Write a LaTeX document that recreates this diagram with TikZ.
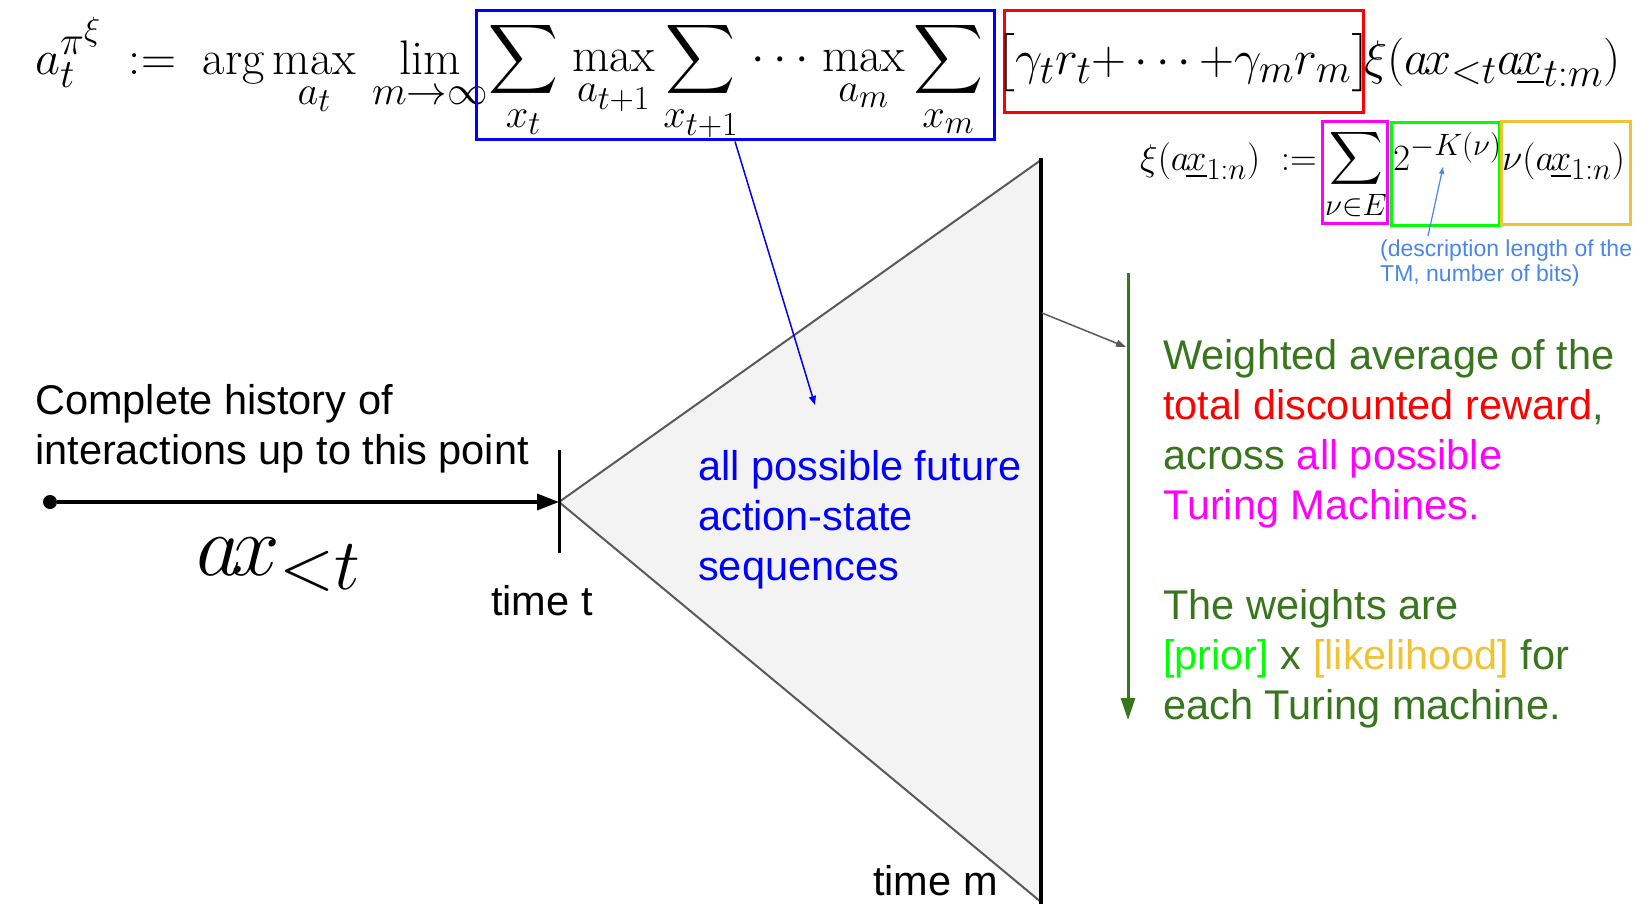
\RequirePackage{fix-cm}
\documentclass[tikz,border=0pt]{standalone}
\usepackage{amsmath}
\usepackage{graphicx}
\usepackage{fontspec}
\setsansfont{Liberation Sans}
\usetikzlibrary{arrows.meta}

\definecolor{darkgreen}{HTML}{38761D}
\definecolor{primegreen}{HTML}{00FF00}
\definecolor{likeorange}{HTML}{F1C232}
\definecolor{tmmagenta}{HTML}{FF00FF}
\definecolor{desctext}{HTML}{4A86E8}
\definecolor{edgegray}{HTML}{595959}
\definecolor{conegray}{HTML}{F3F3F3}

% math is set at 24.88pt (largest cmex size) and scaled up
\newcommand{\bigeq}[1]{\scalebox{1.95}{$\displaystyle #1$}}
\newcommand{\smalleq}[1]{\scalebox{1.49}{$\displaystyle #1$}}
\newcommand{\hist}{a\mkern-2mu x}

\tikzset{
  plaintext/.style={font=\sffamily\fontsize{41.5}{50}\selectfont, inner sep=0pt, anchor=base west},
  desclabel/.style={font=\sffamily\fontsize{23}{27}\selectfont, text=desctext, inner sep=0pt, anchor=base west},
  mathtext/.style={font=\fontsize{24.88}{30}\selectfont, inner sep=0pt},
  termbox/.style={draw=#1, line width=3pt, inner sep=0pt},
}

\begin{document}
\begin{tikzpicture}[x=1pt, y=-1pt]
\useasboundingbox (0,0) rectangle (1645,917);

% cone of futures
\filldraw[fill=conegray, draw=edgegray, line width=2pt] (559,502) -- (1041,160) -- (1041,902) -- cycle;
\draw[line width=4pt] (1041,158) -- (1041,904);

% top formula
\node[mathtext, anchor=base west] (policy) at (35,75) {\bigeq{a_t^{\pi^\xi}\;:=\;\arg\max_{a_t}\,\lim_{m\to\infty}}};
\node[termbox=blue, minimum width=518pt, minimum height=129pt] (futbox) at (735,75.5) {};
\node[mathtext, anchor=base] (futsum) at (736,72) {\bigeq{\sum_{x_t}\mkern2mu\max_{a_{t+1}}\sum_{x_{t+1}}\mkern2mu\cdots\mkern2mu\max_{a_m}\sum_{x_m}}};
\node[termbox=red, minimum width=359pt, minimum height=102pt] (rewbox) at (1183.5,62) {};
\node[mathtext, anchor=base] (reward) at (1183.5,75) {\bigeq{\big[\gamma_t r_t{+}\cdots{+}\gamma_m r_m\big]}};
\node[mathtext, anchor=base west] (mixture) at (1364,75) {\bigeq{\xi(\hist_{<t}a\mkern-2mu\underline{x}_{t:m})}};

% mixture definition
\node[mathtext, anchor=base west] (xidef) at (1140,171) {\smalleq{\xi(a\mkern-2mu\underline{x}_{1:n})\;:=}};
\node[termbox=tmmagenta, minimum width=65pt, minimum height=102pt] (envbox) at (1354.5,173) {};
\node[mathtext, anchor=base] (envsum) at (1356,168) {\smalleq{\sum_{\nu\in E}}};
\node[termbox=primegreen, minimum width=108pt, minimum height=103pt] (priorbox) at (1445,174.5) {};
\node[mathtext, anchor=base west] (prior) at (1393,171) {\smalleq{2^{-K(\nu)}}};
\node[termbox=likeorange, minimum width=129pt, minimum height=103pt] (likebox) at (1565.5,173.5) {};
\node[mathtext, anchor=base west] (like) at (1502,171) {\smalleq{\nu(a\mkern-2mu\underline{x}_{1:n})}};

% description of K
\node[desclabel] (desc1) at (1380,256) {(description length of the};
\node[desclabel] (desc2) at (1380,281) {TM, number of bits)};
\coordinate (kfoot) at (1428,236);
\coordinate (khead) at (1443,167);
\draw[desctext, line width=1.2pt, -{Triangle[length=7pt,width=5pt]}] (kfoot) -- (khead);

% history
\node[plaintext] (hist1) at (35,414) {Complete history of};
\node[plaintext] (hist2) at (35,464) {interactions up to this point};
\node[circle, fill, inner sep=0pt, minimum size=14pt] (origin) at (50,502) {};
\coordinate (now) at (559,502);
\draw[line width=3.5pt, -{Triangle[length=22pt,width=16pt]}] (origin) -- (now);
\draw[line width=3pt] (559,450) -- (559,553);
\node[mathtext, anchor=base west] (past) at (196,575) {\scalebox{3.5}{$\hist_{<t}$}};
\node[plaintext] (timet) at (491,615) {time t};
\node[plaintext] (timem) at (873,895) {time m};

% futures
\node[plaintext, text=blue] (fut1) at (698,480) {all possible future};
\node[plaintext, text=blue] (fut2) at (698,530) {action-state};
\node[plaintext, text=blue] (fut3) at (698,580) {sequences};
\coordinate (futtip) at (815,405);
\draw[blue, line width=1.5pt, -{Triangle[length=9pt,width=7pt]}] (futbox.south) -- (futtip);

% weighted average
\coordinate (edgept) at (1042,313);
\coordinate (avgtop) at (1128,273);
\coordinate (avgbot) at (1128,720);
\coordinate (avgpt) at (1126,347);
\draw[edgegray, line width=1.5pt, -{Triangle[length=10pt,width=7pt]}] (edgept) -- (avgpt);
\draw[darkgreen, line width=3pt, -{Triangle[length=22pt,width=14pt]}] (avgtop) -- (avgbot);

\node[plaintext, text=darkgreen] (avg1) at (1163,369) {Weighted average of the};
\node[plaintext, text=darkgreen] (avg2) at (1163,419) {\textcolor{red}{total discounted reward},};
\node[plaintext, text=darkgreen] (avg3) at (1163,469) {across \textcolor{tmmagenta}{all possible}};
\node[plaintext, text=tmmagenta] (avg4) at (1163,519) {Turing Machines.};
\node[plaintext, text=darkgreen] (wts1) at (1163,619) {The weights are};
\node[plaintext, text=darkgreen] (wts2) at (1163,669) {\textcolor{primegreen}{[prior]} x \textcolor{likeorange}{[likelihood]} for};
\node[plaintext, text=darkgreen] (wts3) at (1163,719) {each Turing machine.};

\end{tikzpicture}
\end{document}
